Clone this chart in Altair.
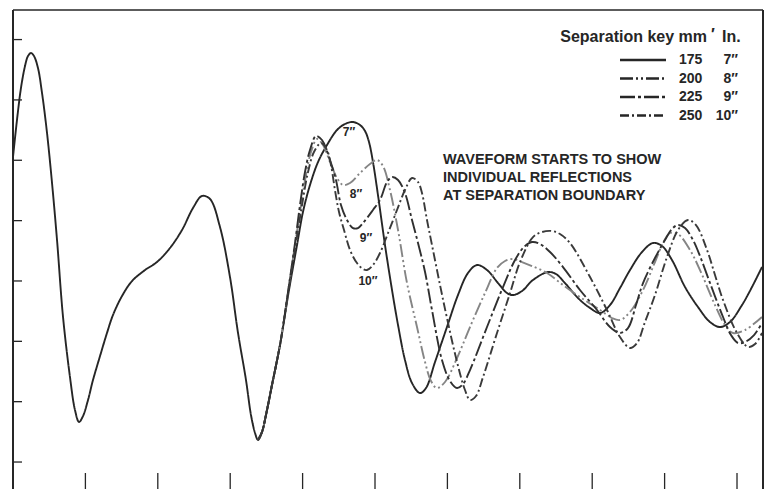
import altair as alt
import pandas as pd

# ---- waveform data (time units on x, amplitude units on y) ----
# single waveform before the separation boundary
common_t = [0.00, 0.55, 1.10, 1.66, 2.07, 2.49, 2.90, 3.45, 4.01, 4.70, 5.39, 6.08,
            6.91, 7.87, 8.56, 9.12, 9.67, 10.36, 11.05, 12.02, 12.98, 13.81, 15.06,
            16.44, 18.23, 19.89, 21.68, 23.34, 24.86, 26.10, 27.21, 28.59, 29.97,
            31.08, 32.18, 32.87, 33.43, 33.84, 34.39, 34.94, 35.77, 36.88]
common_a = [50.54, 56.67, 61.97, 65.62, 67.27, 67.77, 67.27, 65.29, 61.14, 54.52,
            46.23, 36.79, 24.03, 14.08, 8.62, 6.63, 7.62, 10.27, 13.59, 17.56, 21.38,
            24.36, 27.51, 29.99, 31.81, 33.14, 35.46, 38.44, 42.09, 44.08, 43.58,
            38.94, 30.65, 21.38, 13.59, 7.79, 4.81, 3.65, 4.97, 7.79, 12.76, 19.39]

# rise out of the second trough, shared by every separation
rise_t = [33.84, 34.39, 34.94, 35.77, 36.88]
rise_a = [3.65, 4.97, 7.79, 12.76, 19.39]

# 175 mm / 7"
t_175 = [38.12, 39.23, 40.05, 41.02, 42.13, 43.37, 44.75, 45.86, 46.96, 47.93, 48.62,
         49.17, 49.72, 50.41, 51.38, 52.35, 53.18, 54.14, 55.11, 56.21, 57.04, 58.29,
         59.94, 61.46, 62.84, 64.09, 65.47, 66.99, 68.23, 69.06, 70.30, 71.82, 73.89,
         75.00, 76.24, 78.04, 79.70, 81.08, 82.46, 83.84, 85.22, 86.88, 88.40, 89.64,
         91.02, 92.82, 94.61, 96.27, 97.65, 99.03, 100.69, 102.07, 103.45]
a_175 = [28.50, 35.96, 41.43, 45.90, 49.71, 52.53, 55.01, 56.01, 56.34, 55.84, 54.85,
         53.02, 49.71, 44.24, 35.96, 28.50, 22.70, 16.90, 13.09, 11.43, 12.26, 16.57,
         22.37, 27.67, 31.32, 32.64, 31.81, 29.66, 28.00, 27.67, 28.33, 30.16, 31.48,
         31.15, 29.66, 27.17, 25.52, 24.69, 26.01, 28.83, 31.81, 34.80, 36.29, 35.79,
         33.47, 29.00, 25.68, 23.20, 22.37, 23.20, 26.01, 29.00, 32.31]

# 200 mm / 8"
t_200 = [38.12, 38.95, 39.78, 40.47, 41.16, 41.99, 42.82, 43.78, 44.75, 45.58, 46.55,
         47.93, 49.31, 50.28, 51.10, 52.07, 53.18, 54.42, 55.80, 56.91, 57.73, 58.56,
         59.67, 61.33, 63.12, 65.19, 66.85, 67.96, 69.06, 70.30, 71.68, 73.76, 75.97,
         78.31, 81.08, 82.73, 83.84, 85.22, 87.02, 88.67, 89.78, 90.74, 91.85, 93.51,
         94.89, 96.96, 98.34, 99.45, 101.10, 103.45]
a_200 = [29.33, 35.96, 42.58, 47.56, 51.37, 53.52, 52.53, 49.71, 47.06, 45.90, 46.23,
         47.89, 49.38, 50.04, 49.05, 45.07, 38.44, 29.66, 22.37, 16.57, 13.42, 12.26,
         13.26, 17.23, 22.37, 28.00, 32.15, 33.31, 33.64, 33.14, 32.48, 31.32, 29.33,
         27.34, 25.19, 23.86, 23.53, 24.86, 28.50, 33.14, 36.29, 37.95, 37.78, 35.13,
         31.81, 26.01, 22.70, 21.38, 21.87, 24.03]

# 225 mm / 9"
t_225 = [38.12, 38.95, 39.64, 40.33, 41.02, 41.85, 42.68, 43.78, 44.61, 45.30, 46.13,
         46.96, 47.65, 48.34, 49.72, 50.69, 51.66, 52.35, 53.18, 54.14, 55.11, 55.94,
         56.91, 57.87, 59.25, 60.36, 61.33, 62.15, 63.12, 65.47, 67.68, 69.34, 70.58,
         71.68, 72.79, 74.17, 75.97, 78.31, 80.66, 82.46, 83.84, 84.94, 86.05, 87.02,
         88.67, 90.05, 91.02, 91.85, 92.82, 93.92, 94.89, 96.27, 98.07, 99.17, 100.14,
         101.10, 102.35, 103.45]
a_225 = [29.33, 36.29, 42.58, 48.05, 51.70, 54.02, 53.36, 50.04, 46.73, 42.58, 40.10,
         38.77, 38.77, 39.60, 41.76, 43.41, 46.40, 47.22, 46.73, 44.57, 40.10, 36.29,
         31.48, 25.19, 16.90, 13.42, 12.26, 12.92, 15.24, 22.37, 29.00, 33.47, 35.63,
         36.45, 36.12, 34.80, 32.31, 28.50, 25.19, 22.37, 21.38, 22.20, 26.01, 29.66,
         33.80, 36.79, 38.61, 39.27, 38.77, 36.79, 34.13, 29.66, 24.03, 21.04, 19.72,
         19.88, 21.04, 23.03]

# 250 mm / 10"
t_250 = [38.12, 39.09, 39.92, 40.75, 41.57, 42.54, 43.37, 43.92, 44.47, 45.03, 45.72,
         46.55, 47.51, 48.34, 48.89, 49.72, 50.69, 51.80, 53.04, 54.14, 55.11, 55.94,
         56.49, 57.18, 57.87, 58.98, 59.94, 61.33, 62.43, 63.12, 63.95, 64.92, 66.85,
         68.65, 70.03, 71.82, 73.07, 74.45, 75.55, 76.93, 79.70, 82.04, 83.84, 85.22,
         86.19, 87.29, 88.67, 90.33, 91.85, 93.23, 94.34, 95.86, 96.96, 98.07, 100.00,
         101.52, 102.49, 103.45]
a_250 = [29.00, 36.29, 42.58, 48.05, 51.37, 52.86, 51.70, 49.21, 45.07, 41.43, 38.44,
         35.13, 32.97, 31.98, 31.81, 32.64, 34.63, 37.95, 41.76, 45.07, 47.06, 46.40,
         44.57, 40.10, 35.96, 29.33, 23.86, 16.57, 11.93, 10.27, 10.94, 14.08, 21.38,
         28.00, 33.14, 37.28, 38.11, 38.28, 37.78, 36.29, 30.65, 25.19, 20.71, 18.89,
         19.72, 23.20, 27.67, 33.97, 38.44, 40.10, 39.27, 35.13, 30.99, 26.84, 21.38,
         19.06, 19.55, 21.38]

sep_mm = ["175", "200", "225", "250"]
sep_in = ["7″", "8″", "9″", "10″"]

# curve labels placed inside each separation's first dip
label_t = [46.41, 47.37, 48.76, 49.03]
label_a = [54.68, 44.41, 37.12, 29.99]

note_t = [59.39]
note_a = [49.30]
note_text = ["WAVEFORM STARTS TO SHOW\nINDIVIDUAL REFLECTIONS\nAT SEPARATION BOUNDARY"]

y_ticks = [0, 10, 20, 30, 40, 50, 60, 70]
x_ticks = [10, 20, 30, 40, 50, 60, 70, 80, 90, 100]

# ---- assemble long-form table ----
rows = []
for i, (t, a) in enumerate(zip(common_t, common_a)):
    rows.append({"series": "base", "idx": i, "t": t, "a": a})
for key, ts, as_ in zip(sep_mm, [t_175, t_200, t_225, t_250],
                        [a_175, a_200, a_225, a_250]):
    for i, (t, a) in enumerate(zip(rise_t + ts, rise_a + as_)):
        rows.append({"series": key, "idx": i, "t": t, "a": a})
wave = pd.DataFrame(rows)

INK = "#262626"
FONT = "Liberation Sans"
W, H = 750, 479
series_dom = ["base"] + sep_mm
dash_rng = [[1, 0], [1, 0], [13, 3, 2, 3, 2, 3], [15, 3, 3, 3], [9, 3, 2, 3]]
color_rng = [INK, INK, "#858585", "#303030", "#3a3a3a"]
width_rng = [1.9, 1.9, 1.6, 2.0, 1.5]

xs = alt.Scale(domain=[0, 103.59], nice=False, zero=False)
ys = alt.Scale(domain=[-4.47, 74.90], nice=False, zero=False)

lines = alt.Chart(wave).mark_line(interpolate="catmull-rom", strokeCap="butt").encode(
    x=alt.X("t:Q", scale=xs, axis=None),
    y=alt.Y("a:Q", scale=ys, axis=None),
    detail="series:N",
    order="idx:Q",
    color=alt.Color("series:N", scale=alt.Scale(domain=series_dom, range=color_rng), legend=None),
    strokeDash=alt.StrokeDash("series:N", scale=alt.Scale(domain=series_dom, range=dash_rng), legend=None),
    strokeWidth=alt.StrokeWidth("series:N", scale=alt.Scale(domain=series_dom, range=width_rng), legend=None),
)

one = pd.DataFrame({"k": [0]})

# frame: left axis line, top and right borders
frame = [
    alt.Chart(one).mark_rule(color=INK, strokeWidth=2).encode(
        x=alt.value(0), y=alt.value(0), y2=alt.value(H)),
    alt.Chart(one).mark_rule(color=INK, strokeWidth=1.5).encode(
        x=alt.value(0), x2=alt.value(W), y=alt.value(0)),
    alt.Chart(one).mark_rule(color=INK, strokeWidth=2).encode(
        x=alt.value(W), y=alt.value(0), y2=alt.value(H)),
]

# inward-pointing ticks
yt = alt.Chart(pd.DataFrame({"v": y_ticks})).mark_rule(color=INK, strokeWidth=1.3).encode(
    y=alt.Y("v:Q", scale=ys, axis=None), x=alt.value(0), x2=alt.value(9))
xt = alt.Chart(pd.DataFrame({"v": x_ticks})).mark_rule(color=INK, strokeWidth=1.3).encode(
    x=alt.X("v:Q", scale=xs, axis=None), y=alt.value(H - 16), y2=alt.value(H))

labels = alt.Chart(pd.DataFrame({"t": label_t, "a": label_a, "s": sep_in})).mark_text(
    font=FONT, fontSize=12, fontWeight="bold", color=INK,
    align="center", baseline="middle").encode(
    x=alt.X("t:Q", scale=xs, axis=None), y=alt.Y("a:Q", scale=ys, axis=None), text="s:N")

note = alt.Chart(pd.DataFrame({"t": note_t, "a": note_a, "s": note_text})).mark_text(
    font=FONT, fontSize=14.5, fontWeight="bold", color=INK,
    align="left", baseline="alphabetic", lineBreak="\n", lineHeight=18).encode(
    x=alt.X("t:Q", scale=xs, axis=None), y=alt.Y("a:Q", scale=ys, axis=None), text="s:N")

# separation key in the upper right corner
LEG_Y0, LEG_STEP = 50, 18.5
key = [
    alt.Chart(one).mark_text(font=FONT, fontSize=16, fontWeight="bold",
                             color=INK, align="right", baseline="alphabetic").encode(
        x=alt.value(694), y=alt.value(32), text=alt.value("Separation key  mm")),
    alt.Chart(one).mark_text(font=FONT, fontSize=16, fontWeight="bold",
                             color=INK, align="center", baseline="alphabetic").encode(
        x=alt.value(700), y=alt.value(30), text=alt.value("′")),
    alt.Chart(one).mark_text(font=FONT, fontSize=16, fontWeight="bold",
                             color=INK, align="left", baseline="alphabetic").encode(
        x=alt.value(709), y=alt.value(32), text=alt.value("In.")),
]
for i, (mm, inch) in enumerate(zip(sep_mm, sep_in)):
    yrow = LEG_Y0 + i * LEG_STEP
    key.append(alt.Chart(one).mark_rule(color=INK, strokeWidth=2.6, strokeDash=dash_rng[i + 1]).encode(
        x=alt.value(607), x2=alt.value(653), y=alt.value(yrow)))
    key.append(alt.Chart(one).mark_text(font=FONT, fontSize=14, fontWeight="bold",
                                        color=INK, align="left", baseline="middle").encode(
        x=alt.value(666), y=alt.value(yrow), text=alt.value(mm)))
    key.append(alt.Chart(one).mark_text(font=FONT, fontSize=14, fontWeight="bold",
                                        color=INK, align="right", baseline="middle").encode(
        x=alt.value(725), y=alt.value(yrow), text=alt.value(inch)))

chart = alt.layer(lines, *frame, yt, xt, labels, note, *key).properties(
    width=W, height=H,
    padding={"left": 13, "top": 10, "right": 8, "bottom": 0},
    autosize=alt.AutoSizeParams(type="none"),
    background="white",
).configure_view(stroke=None)

chart.save("out.html", embed_options={"renderer": "svg", "actions": False})
